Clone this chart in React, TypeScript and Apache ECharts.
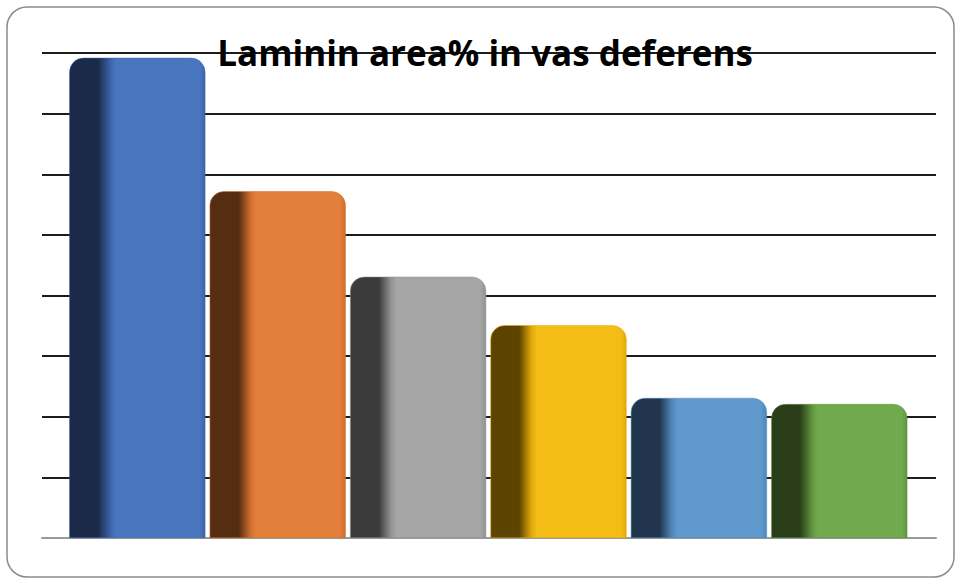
import React, { useEffect, useRef } from "react";
import * as echarts from "echarts";

const titleText = "Laminin area% in vas deferens";
const categories = ["1", "2", "3", "4", "5", "6"];
const values = [7.92, 5.72, 4.31, 3.51, 2.31, 2.21];
const mainColors = ["#4a76c0", "#e47f3b", "#a5a5a5", "#f4bd15", "#5f98cc", "#71a94f"];
const darkColors = ["#1b2a48", "#552d11", "#3b3b3b", "#5c4400", "#21364e", "#2a3f19"];
const edgeColors = ["#3c63a8", "#cf6e2d", "#929292", "#e0a90a", "#4f86ba", "#5f953f"];
const yMin = 0;
const yMax = 8;
const yInterval = 1;

function barGradient(i: number) {
  return new echarts.graphic.LinearGradient(0, 0, 1, 0, [
    { offset: 0, color: darkColors[i] },
    { offset: 0.21, color: darkColors[i] },
    { offset: 0.3, color: edgeColors[i] },
    { offset: 0.34, color: mainColors[i] },
    { offset: 0.96, color: mainColors[i] },
    { offset: 1, color: edgeColors[i] },
  ]);
}

export default function App() {
  const ref = useRef<HTMLDivElement>(null);
  useEffect(() => {
    document.body.style.margin = "0";
    const chart = echarts.init(ref.current!, undefined, { renderer: "svg" });
    chart.setOption({
      animation: false,
      backgroundColor: "#ffffff",
      graphic: [
        {
          type: "rect",
          shape: { x: 7, y: 7, width: 947, height: 570, r: 20 },
          style: { fill: "none", stroke: "#8a8a8a", lineWidth: 1.5 },
          z: 0,
        },
        {
          type: "text",
          x: 485,
          y: 52,
          z: 100,
          style: {
            text: titleText,
            fontFamily: "Open Sans",
            fontWeight: "bold",
            fontSize: 35,
            fill: "#000000",
            align: "center",
            verticalAlign: "middle",
          },
        },
      ],
      grid: [
        { left: 42, right: 24, top: 53, bottom: 44 },
        { left: 67.1, right: 50.5, top: 53, bottom: 44 },
      ],
      xAxis: [
        {
          type: "category",
          gridIndex: 0,
          data: categories,
          axisLine: { show: true, lineStyle: { color: "#9a9a9a", width: 2 } },
          axisTick: { show: false },
          axisLabel: { show: false },
          splitLine: { show: false },
        },
        {
          type: "category",
          gridIndex: 1,
          data: categories,
          axisLine: { show: false },
          axisTick: { show: false },
          axisLabel: { show: false },
        },
      ],
      yAxis: [
        {
          type: "value",
          gridIndex: 0,
          min: yMin,
          max: yMax,
          interval: yInterval,
          axisLine: { show: false },
          axisTick: { show: false },
          axisLabel: { show: false },
          splitLine: { show: true, lineStyle: { color: "#1c1c1c", width: 2 } },
        },
        {
          type: "value",
          gridIndex: 1,
          min: yMin,
          max: yMax,
          interval: yInterval,
          axisLine: { show: false },
          axisTick: { show: false },
          axisLabel: { show: false },
          splitLine: { show: false },
        },
      ],
      series: [
        {
          type: "bar",
          xAxisIndex: 1,
          yAxisIndex: 1,
          barCategoryGap: "3.1%",
          z: 5,
          data: values.map((v, i) => ({
            value: v,
            itemStyle: {
              color: barGradient(i),
              borderRadius: [14, 14, 0, 0],
              borderColor: edgeColors[i],
              borderWidth: 0.5,
            },
          })),
        },
      ],
    });
    return () => chart.dispose();
  }, []);
  return <div ref={ref} style={{ width: 960, height: 582 }} />;
}
